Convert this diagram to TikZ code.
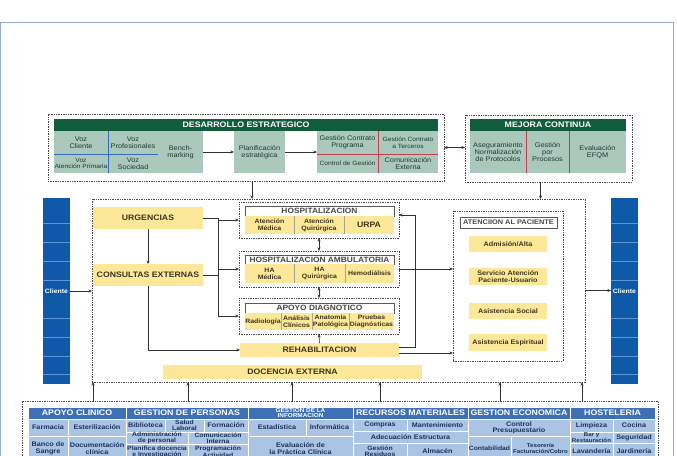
\documentclass[tikz,border=0pt]{standalone}
\usepackage{fontspec}
\setmainfont{Liberation Sans}[FakeStretch=1.1]
\usetikzlibrary{arrows.meta,calc}

\definecolor{gverde}{RGB}{18,92,62}
\definecolor{gcelda}{RGB}{170,200,188}
\definecolor{gtexto}{RGB}{30,58,50}
\definecolor{amarillo}{RGB}{252,232,152}
\definecolor{amtexto}{RGB}{62,52,28}
\definecolor{azulbar}{RGB}{14,90,168}
\definecolor{azulraya}{RGB}{95,150,215}
\definecolor{azulcab}{RGB}{62,112,182}
\definecolor{azulcelda}{RGB}{172,196,228}
\definecolor{azultexto}{RGB}{26,50,95}
\definecolor{marco}{RGB}{150,172,205}
\definecolor{linea}{RGB}{50,50,50}
\definecolor{rojo}{RGB}{200,60,80}
\definecolor{azulsep}{RGB}{50,110,190}

% box given by its corners (pixels of the sheet)
\newcommand{\areanode}[7]{%
  \node[#1, minimum width={#5pt-#3pt}, minimum height={#6pt-#4pt}] (#2) at ({(#3+#5)/2},{(#4+#6)/2}) {#7};}

\begin{document}
\begin{tikzpicture}[x=1pt, y=-1pt, >={Stealth[length=3.6pt,width=3pt]},
  area/.style={inner sep=0pt, outer sep=0pt, align=center},
  discont/.style={area, draw=gray!55!black, dash pattern=on 1.4pt off 1pt, line width=0.5pt},
  cabverde/.style={area, fill=gverde, text=white, font=\fontsize{8}{8.5}\selectfont\bfseries},
  celdaverde/.style={area, fill=gcelda, text=gtexto, font=\fontsize{6.7}{7.2}\selectfont},
  celdachicav/.style={celdaverde, font=\fontsize{6.1}{6.8}\selectfont},
  amar/.style={area, fill=amarillo, text=amtexto, font=\fontsize{7.9}{8.5}\selectfont\bfseries},
  amarcelda/.style={area, fill=amarillo, text=amtexto, font=\fontsize{6.3}{7.2}\selectfont\bfseries},
  amaritem/.style={area, fill=amarillo, text=amtexto, font=\fontsize{6.6}{7.2}\selectfont\bfseries},
  titulo/.style={area, fill=white, draw=gray!70!black, line width=0.6pt, text=black!72, font=\fontsize{7.6}{8}\selectfont\bfseries},
  titulo2/.style={titulo, font=\fontsize{6.7}{7}\selectfont\bfseries},
  cliente/.style={area, fill=azulbar, text=white, font=\fontsize{6.3}{7}\selectfont\bfseries},
  raya/.style={draw=azulraya, line width=0.5pt},
  cabazul/.style={area, fill=azulcab, draw=white, line width=0.6pt, text=white, font=\fontsize{8}{8.5}\selectfont\bfseries},
  cabazulchica/.style={cabazul, font=\fontsize{5.8}{4.6}\selectfont\bfseries},
  celdaazul/.style={area, fill=azulcelda, draw=white, line width=0.6pt, text=azultexto, font=\fontsize{6.6}{6.4}\selectfont\bfseries},
  celdachica/.style={celdaazul, font=\fontsize{6.2}{5.8}\selectfont\bfseries},
  celdamini/.style={celdaazul, font=\fontsize{5.6}{5.6}\selectfont\bfseries},
  sepazul/.style={draw=azulsep, line width=0.6pt},
  seprojo/.style={draw=rojo, line width=0.6pt},
  sepamar/.style={draw=amtexto!45, line width=0.5pt},
  conector/.style={draw=linea, line width=0.6pt},
  flecha/.style={conector, ->}]

\useasboundingbox (0,0) rectangle (677,455);
\clip (0,0) rectangle (677,455);

% Outer frame
\draw[marco, line width=0.8pt] (0.5,22.5) rectangle (673,475);

% Desarrollo estrategico
\areanode{discont}{desar}{48}{114}{444}{181}{}
\areanode{cabverde}{desartit}{54}{119}{438}{131}{DESARROLLO ESTRATEGICO}
\areanode{celdaverde}{vcli}{54}{131}{108}{154}{Voz\\Cliente}
\areanode{celdachicav}{vpri}{54}{154}{108}{173}{Voz\\Atención Primaria}
\areanode{celdaverde}{vpro}{108}{131}{158}{154}{Voz\\Profesionales}
\areanode{celdaverde}{vsoc}{108}{154}{158}{173}{Voz\\Sociedad}
\areanode{celdaverde}{bench}{158}{131}{203}{173}{Bench-\\marking}
\areanode{celdaverde}{plan}{234}{131}{285}{173}{Planificación\\estratégica}
\areanode{celdaverde}{gcp}{317}{131}{378}{154}{Gestión Contrato\\Programa}
\areanode{celdachicav}{gct}{378}{131}{438}{154}{Gestión Contrato\\a Terceros}
\areanode{celdachicav}{cges}{317}{154}{378}{173}{Control de Gestión}
\areanode{celdaverde}{cext}{378}{154}{438}{173}{Comunicación\\Externa}
\draw[sepazul] (vcli.north east) -- (vpri.south east);
\draw[sepazul] (vcli.south west) -- (vpro.south east);
\draw[seprojo] (gcp.north east) -- (cges.south east);
\draw[seprojo] (gcp.south west) -- (gct.south east);
\draw[flecha] (bench.east) -- (plan.west);
\draw[flecha] (plan.east) -- (plan.east -| gcp.west);

% Mejora continua
\areanode{discont}{mejora}{465}{115}{632}{182}{}
\areanode{cabverde}{mejoratit}{470}{119}{626}{131}{MEJORA CONTINUA}
\areanode{celdaverde}{aseg}{470}{131}{526}{173}{Aseguramiento\\Normalización\\de Protocolos}
\areanode{celdaverde}{gproc}{526}{131}{569}{173}{Gestión\\por\\Procesos}
\areanode{celdaverde}{efqm}{569}{131}{626}{173}{Evaluación\\EFQM}
\draw[seprojo] (aseg.north east) -- (aseg.south east);
\draw[seprojo] (gproc.north east) -- (gproc.south east);
\draw[<->, conector] (desar.east) -- (desar.east -| mejora.west);

% Main process area and clients
\areanode{discont}{main}{92}{199}{585}{382}{}
\areanode{cliente}{clil}{43}{198}{70}{384}{Cliente}
\areanode{cliente}{clir}{611}{198}{638}{384}{Cliente}
\foreach \yy in {223,242,261,280,318,337,356,374} {
  \draw[raya] (43,\yy) -- (70,\yy);
  \draw[raya] (611,\yy) -- (638,\yy);
}
\coordinate (dbaj) at ([xshift=6pt]desar.south);
\coordinate (mbaj) at ([xshift=-8pt]mejora.south);
\draw[flecha] (dbaj) -- (dbaj |- main.north);
\draw[flecha] (mbaj) -- (mbaj |- main.north);
\draw[flecha] (clil.east) -- (clil.east -| main.west);
\draw[flecha] (main.east) -- (main.east -| clir.west);

\areanode{amar}{urg}{93}{207}{203}{229}{URGENCIAS}
\areanode{amar}{cons}{93}{264}{203}{286}{CONSULTAS EXTERNAS}

% Hospitalizacion
\areanode{discont}{hosp}{239}{202}{399}{238}{}
\areanode{titulo}{hosptit}{245}{206}{394}{216}{HOSPITALIZACION}
\areanode{amarcelda}{amed}{245}{216}{294}{234}{Atención\\Médica}
\areanode{amarcelda}{aqui}{294}{216}{344}{234}{Atención\\Quirúrgica}
\areanode{amar}{urpa}{344}{216}{394}{234}{URPA}

% Hospitalizacion ambulatoria
\areanode{discont}{amb}{239}{251}{399}{287}{}
\areanode{titulo}{ambtit}{245}{255}{394}{264}{HOSPITALIZACION AMBULATORIA}
\areanode{amarcelda}{hamed}{245}{264}{294}{283}{HA\\Médica}
\areanode{amarcelda}{haqui}{294}{264}{345}{283}{HA\\Quirúrgica}
\areanode{amarcelda}{hemo}{345}{264}{394}{283}{Hemodiálisis}

% Apoyo diagnostico
\areanode{discont}{apoyo}{239}{298}{399}{334}{}
\areanode{titulo}{apoyotit}{245}{303}{394}{313}{APOYO DIAGNOTICO}
\areanode{amarcelda}{radio}{245}{313}{281}{330}{Radiología}
\areanode{amarcelda}{anal}{281}{313}{312}{330}{Análisis\\Clínicos}
\areanode{amarcelda}{anat}{312}{313}{349}{330}{Anatomía\\Patológica}
\areanode{amarcelda}{prueb}{349}{313}{394}{330}{Pruebas\\Diagnósticas}
\foreach \c in {amed,aqui,hamed,haqui,radio,anal,anat}
  \draw[sepamar] (\c.north east) -- (\c.south east);

\areanode{amar}{rehab}{240}{343}{399}{357}{REHABILITACION}
\areanode{amar}{doc}{163}{365}{422}{379}{DOCENCIA EXTERNA}

% Atencion al paciente
\areanode{discont}{aten}{453}{211}{563}{361}{}
\areanode{titulo2}{atentit}{460}{217}{557}{228}{ATENCIION AL PACIENTE}
\areanode{amaritem}{adm}{469}{236}{547}{252}{Admisión/Alta}
\areanode{amaritem}{serv}{469}{268}{547}{285}{Servicio Atención\\Paciente-Usuario}
\areanode{amaritem}{asoc}{469}{303}{547}{319}{Asistencia Social}
\areanode{amaritem}{aesp}{469}{334}{547}{351}{Asistencia Espiritual}

% Flows inside the main area
\coordinate (bus) at ([xshift=15pt]urg.east);
\draw[flecha] (urg) -- (cons);
\draw[conector] (urg.east) -- (bus) -- (bus |- apoyo.west);
\draw[conector] (cons.east) -- (cons.east -| bus);
\draw[flecha] (bus |- hosp.west) -- (hosp.west);
\draw[flecha] (bus |- amb.west) -- (amb.west);
\draw[flecha] (bus |- apoyo.west) -- (apoyo.west);
\draw[flecha] (cons.south) |- (rehab.west);
\draw[<->, conector] (hosp.south) -- (amb.north);
\draw[<->, conector] (amb.south) -- (apoyo.north);
\draw[flecha] (rehab.north) -- (apoyo.south);
\coordinate (rehabalto) at ([yshift=3pt]rehab.east);
\coordinate (rehabbajo) at ([yshift=-3pt]rehab.east);
\coordinate (hospder) at ([yshift=5pt]hosp.east);
\draw[flecha] (rehabalto) -- ++(16,0) |- (hospder);
\draw[flecha] (amb.east) -- (amb.east -| aten.west);
\draw[flecha] (rehabbajo) -- (rehabbajo -| aten.west);

% Support processes
\areanode{discont}{soporte}{22}{401}{658}{475}{}
\foreach \xx in {93,188,292,380,500,582} {
  \coordinate (col) at (\xx,0);
  \draw[flecha] (col |- soporte.north) -- (col |- main.south);
}
\areanode{cabazul}{cabac}{28}{407}{126}{419}{APOYO CLINICO}
\areanode{cabazul}{cabgp}{126}{407}{248}{419}{GESTION DE PERSONAS}
\areanode{cabazulchica}{cabgi}{248}{407}{353}{419}{GESTION DE LA\\INFORMACION}
\areanode{cabazul}{cabrm}{353}{407}{468}{419}{RECURSOS MATERIALES}
\areanode{cabazul}{cabge}{468}{407}{570}{419}{GESTION ECONOMICA}
\areanode{cabazul}{cabho}{570}{407}{655}{419}{HOSTELERIA}

\areanode{celdaazul}{farm}{28}{419}{68}{436}{Farmacia}
\areanode{celdaazul}{este}{68}{419}{126}{436}{Esterilización}
\areanode{celdaazul}{banco}{28}{436}{68}{461}{Banco de\\Sangre}
\areanode{celdaazul}{docu}{68}{436}{126}{461}{Documentación\\clínica}

\areanode{celdaazul}{bibl}{126}{419}{165}{432}{Biblioteca}
\areanode{celdachica}{salud}{165}{419}{204}{432}{Salud\\Laboral}
\areanode{celdaazul}{form}{204}{419}{248}{432}{Formación}
\areanode{celdachica}{admp}{126}{432}{188}{444}{Administración\\de personal}
\areanode{celdachica}{comi}{188}{432}{248}{444}{Comunicación\\Interna}
\areanode{celdachica}{plad}{126}{444}{188}{460}{Planifica docencia\\e Investigación}
\areanode{celdachica}{prog}{188}{444}{248}{460}{Programación\\Actividad}

\areanode{celdaazul}{estad}{248}{419}{306}{436}{Estadística}
\areanode{celdaazul}{infor}{306}{419}{353}{436}{Informática}
\areanode{celdaazul}{evpc}{248}{436}{353}{461}{Evaluación de\\la Práctica Clínica}

\areanode{celdaazul}{comp}{353}{419}{407}{431}{Compras}
\areanode{celdaazul}{mant}{407}{419}{468}{431}{Mantenimiento}
\areanode{celdaazul}{adec}{353}{431}{468}{443}{Adecuación Estructura}
\areanode{celdachica}{gres}{353}{443}{407}{460}{Gestión\\Residuos}
\areanode{celdaazul}{alma}{407}{443}{468}{460}{Almacén}

\areanode{celdaazul}{cpre}{468}{419}{570}{436}{Control\\Presupuestario}
\areanode{celdachica}{conta}{468}{436}{511}{461}{Contabilidad}
\areanode{celdamini}{teso}{511}{436}{570}{461}{Tesorería\\Facturación/Cobro}

\areanode{celdaazul}{limp}{570}{419}{613}{432}{Limpieza}
\areanode{celdaazul}{coci}{613}{419}{655}{432}{Cocina}
\areanode{celdamini}{bary}{570}{432}{613}{443}{Bar y\\Restauración}
\areanode{celdaazul}{segu}{613}{432}{655}{443}{Seguridad}
\areanode{celdaazul}{lava}{570}{443}{613}{460}{Lavandería}
\areanode{celdaazul}{jard}{613}{443}{655}{460}{Jardinería}

\end{tikzpicture}
\end{document}
